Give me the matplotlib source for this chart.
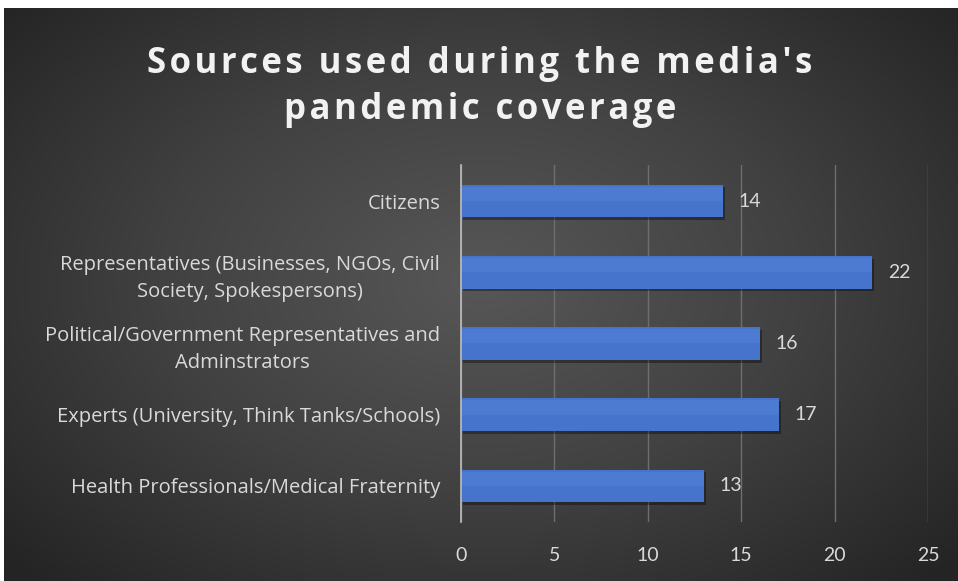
import numpy as np
import matplotlib.pyplot as plt
from matplotlib.colors import LinearSegmentedColormap

categories = [
    "Citizens",
    "Representatives (Businesses, NGOs, Civil\nSociety, Spokespersons)",
    "Political/Government Representatives and\nAdminstrators",
    "Experts (University, Think Tanks/Schools)",
    "Health Professionals/Medical Fraternity",
]
values = [14, 22, 16, 17, 13]
xticks = [0, 5, 10, 15, 20, 25]
title = "Sources used during the media's\npandemic coverage"

fig = plt.figure(figsize=(9.58, 5.81), dpi=100)
fig.patch.set_facecolor("white")

# dark radial background
bg = fig.add_axes([4 / 958, 0, 1 - 4 / 958, 1 - 8 / 581])
gx, gy = np.meshgrid(np.linspace(-1, 1, 400), np.linspace(-1, 1, 250))
r = np.sqrt((gx / 1.0) ** 2 + ((gy + 0.05) / 1.1) ** 2)
cmap = LinearSegmentedColormap.from_list("bg", ["#575757", "#414141", "#242424"])
bg.imshow(r, cmap=cmap, aspect="auto", extent=[0, 1, 0, 1], vmin=0, vmax=1.35)
bg.axis("off")

ax = fig.add_axes([461 / 958, 1 - 521.6 / 581, 467 / 958, 356.2 / 581])
ax.patch.set_alpha(0)
y = np.arange(len(categories))

# soft shadow then bars
ax.barh(y + 0.04, values, height=0.46, left=0.12, color="black", alpha=0.35, zorder=2)
ax.barh(y, values, height=0.46, color="#4674cc", zorder=3)
ax.barh(y - 0.1, values, height=0.2, color="#5682d8", alpha=0.5, zorder=4)

for yi, v in zip(y, values):
    ax.text(v + 0.85, yi, str(v), va="center", ha="left", color="#d9d9d9",
            fontsize=14, family="Lato", zorder=5)

ax.set_xlim(0, 25)
ax.set_ylim(len(categories) - 0.5, -0.5)
ax.set_xticks(xticks)
ax.set_xticklabels([str(t) for t in xticks], color="#d9d9d9", fontsize=14, family="Lato")
ax.set_yticks(y)
ax.set_yticklabels(categories, color="#d9d9d9", fontsize=14.5, family="Open Sans",
                   multialignment="center", linespacing=1.45)
ax.tick_params(axis="both", length=0)
ax.tick_params(axis="x", pad=18)
ax.tick_params(axis="y", pad=15)
ax.grid(axis="x", color="#6e6e6e", lw=1, zorder=0)
for s in ["top", "right", "bottom"]:
    ax.spines[s].set_visible(False)
ax.spines["left"].set_color("#bfbfbf")
ax.spines["left"].set_linewidth(1.2)
ax.spines["left"].set_zorder(6)

# letter-spaced title (hair spaces between characters)
spaced = "\n".join("\u200a".join(line) for line in title.split("\n"))
fig.text(480 / 958, 1 - 87 / 581, spaced, ha="center", va="center", color="#f2f2f2",
         fontsize=25, fontweight="bold", family=["Open Sans", "DejaVu Sans"],
         linespacing=1.38)

fig.savefig("out.png", dpi=100, facecolor=fig.get_facecolor())
